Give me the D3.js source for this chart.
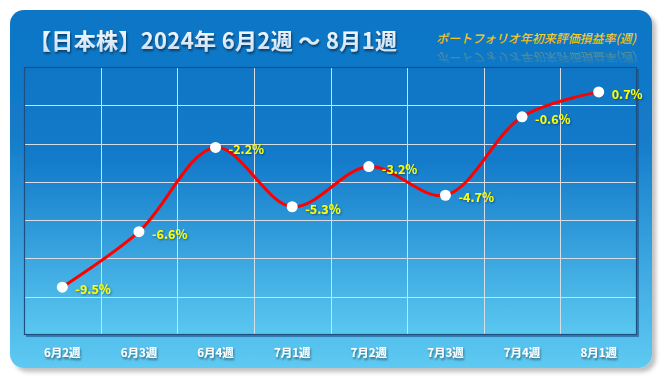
<!DOCTYPE html>
<html>
<head>
<meta charset="utf-8">
<script src="https://cdn.jsdelivr.net/npm/d3@7"></script>
<style>
  body { margin: 0; background: #fff; }
  text { font-family: "Noto Sans CJK JP", "Noto Sans", sans-serif; }
</style>
</head>
<body>
<div id="chart"></div>
<script>
// Data
const weeks = ["6月2週", "6月3週", "6月4週", "7月1週", "7月2週", "7月3週", "7月4週", "8月1週"];
const returns = [-9.5, -6.6, -2.2, -5.3, -3.2, -4.7, -0.6, 0.7];
const yTicks = [-12, -10, -8, -6, -4, -2, 0, 2];

const titleText = "【日本株】2024年 6月2週 ～ 8月1週";
const subtitleText = "ポートフォリオ年初来評価損益率(週)";

const width = 666, height = 384;
const plot = { left: 24, top: 67, right: 637, bottom: 335 };

const svg = d3.select("#chart").append("svg")
    .attr("width", width)
    .attr("height", height);

const defs = svg.append("defs");

// Background gradient
const bg = defs.append("linearGradient")
    .attr("id", "bg").attr("x1", 0).attr("y1", 0).attr("x2", 0).attr("y2", 1);
bg.append("stop").attr("offset", "0%").attr("stop-color", "#0e76c6");
bg.append("stop").attr("offset", "35%").attr("stop-color", "#137bca");
bg.append("stop").attr("offset", "100%").attr("stop-color", "#5ecaf2");

const plotBg = defs.append("linearGradient")
    .attr("id", "plotBg").attr("x1", 0).attr("y1", 0).attr("x2", 0).attr("y2", 1);
plotBg.append("stop").attr("offset", "0%").attr("stop-color", "#0f76c6");
plotBg.append("stop").attr("offset", "35%").attr("stop-color", "#137bca");
plotBg.append("stop").attr("offset", "100%").attr("stop-color", "#5ac8f0");

const sub = defs.append("linearGradient")
    .attr("id", "sub").attr("x1", 0).attr("y1", 0).attr("x2", 0).attr("y2", 1);
sub.append("stop").attr("offset", "0%").attr("stop-color", "#ffe830");
sub.append("stop").attr("offset", "100%").attr("stop-color", "#f0a800");

const titleGrad = defs.append("linearGradient")
    .attr("id", "titleGrad").attr("x1", 0).attr("y1", 0).attr("x2", 0).attr("y2", 1);
titleGrad.append("stop").attr("offset", "0%").attr("stop-color", "#ffffff");
titleGrad.append("stop").attr("offset", "100%").attr("stop-color", "#c8dcf0");

const fade = defs.append("linearGradient")
    .attr("id", "fade").attr("x1", 0).attr("y1", 0).attr("x2", 0).attr("y2", 1);
fade.append("stop").attr("offset", "0%").attr("stop-color", "#f0c030").attr("stop-opacity", 0);
fade.append("stop").attr("offset", "100%").attr("stop-color", "#f0c030").attr("stop-opacity", 0.45);

const shadow = defs.append("filter").attr("id", "panelShadow")
    .attr("x", "-5%").attr("y", "-5%").attr("width", "115%").attr("height", "115%");
shadow.append("feGaussianBlur").attr("in", "SourceAlpha").attr("stdDeviation", 2);
shadow.append("feOffset").attr("dx", 4).attr("dy", 4).attr("result", "b");
shadow.append("feComponentTransfer").append("feFuncA").attr("type", "linear").attr("slope", 0.25);
const m = shadow.append("feMerge");
m.append("feMergeNode");
m.append("feMergeNode").attr("in", "SourceGraphic");

const textShadow = defs.append("filter").attr("id", "textShadow")
    .attr("x", "-10%").attr("y", "-20%").attr("width", "120%").attr("height", "160%");
textShadow.append("feGaussianBlur").attr("in", "SourceAlpha").attr("stdDeviation", 1);
textShadow.append("feOffset").attr("dx", 1).attr("dy", 2);
textShadow.append("feComponentTransfer").append("feFuncA").attr("type", "linear").attr("slope", 0.5);
const m2 = textShadow.append("feMerge");
m2.append("feMergeNode");
m2.append("feMergeNode").attr("in", "SourceGraphic");

const glow = defs.append("filter").attr("id", "glow")
    .attr("x", "-10%").attr("y", "-20%").attr("width", "120%").attr("height", "160%");
glow.append("feGaussianBlur").attr("in", "SourceAlpha").attr("stdDeviation", 0.8);
glow.append("feOffset").attr("dx", 0.5).attr("dy", 1);
glow.append("feComponentTransfer").append("feFuncA").attr("type", "linear").attr("slope", 0.45);
const m3 = glow.append("feMerge");
m3.append("feMergeNode");
m3.append("feMergeNode").attr("in", "SourceGraphic");

// Panel
svg.append("rect")
    .attr("x", 10).attr("y", 10)
    .attr("width", 642).attr("height", 358)
    .attr("rx", 14)
    .attr("fill", "url(#bg)")
    .attr("filter", "url(#panelShadow)");

// Title
svg.append("text")
    .attr("x", 29).attr("y", 49)
    .attr("font-size", 22)
    .attr("font-weight", "bold")
    .attr("fill", "url(#titleGrad)")
    .attr("filter", "url(#textShadow)")
    .attr("textLength", 368)
    .text(titleText);

// Subtitle with faint reflection below it
svg.append("text")
    .attr("x", 436).attr("y", 43)
    .attr("font-size", 12)
    .attr("font-style", "italic")
    .attr("font-weight", 500)
    .attr("fill", "url(#sub)")
    .attr("textLength", 200)
    .text(subtitleText);
svg.append("text")
    .attr("transform", "translate(0,96) scale(1,-1)")
    .attr("x", 436).attr("y", 43)
    .attr("font-size", 12)
    .attr("font-style", "italic")
    .attr("fill", "url(#fade)")
    .attr("textLength", 200)
    .text(subtitleText);

// Scales
const x = d3.scaleBand().domain(weeks).range([plot.left, plot.right]);
const y = d3.scaleLinear().domain([-12, 2]).range([plot.bottom, plot.top]);

// Plot area
svg.append("rect")
    .attr("x", plot.left + 2).attr("y", plot.top + 2)
    .attr("width", plot.right - plot.left).attr("height", plot.bottom - plot.top)
    .attr("fill", "#1c4f86").attr("opacity", 0.6);
svg.append("rect")
    .attr("x", plot.left).attr("y", plot.top)
    .attr("width", plot.right - plot.left).attr("height", plot.bottom - plot.top)
    .attr("fill", "url(#plotBg)");

// Gridlines
const grid = svg.append("g").attr("stroke", "#d6dde6").attr("stroke-width", 1);
grid.selectAll(".h")
    .data(yTicks.slice(1, -1))
    .enter().append("line")
    .attr("x1", plot.left).attr("x2", plot.right)
    .attr("y1", d => Math.round(y(d)) + 0.5).attr("y2", d => Math.round(y(d)) + 0.5);
grid.selectAll(".v")
    .data(weeks.slice(1))
    .enter().append("line")
    .attr("y1", plot.top).attr("y2", plot.bottom)
    .attr("x1", d => Math.round(x(d)) + 0.5).attr("x2", d => Math.round(x(d)) + 0.5);

svg.append("rect")
    .attr("x", plot.left + 0.5).attr("y", plot.top + 0.5)
    .attr("width", plot.right - plot.left - 1).attr("height", plot.bottom - plot.top - 1)
    .attr("fill", "none")
    .attr("stroke", "#1d4f80").attr("stroke-width", 1.2);

// Line
const line = d3.line()
    .x((d, i) => x(weeks[i]) + x.bandwidth() / 2)
    .y(d => y(d))
    .curve(d3.curveCatmullRom.alpha(0.5));

svg.append("path")
    .datum(returns)
    .attr("d", line)
    .attr("fill", "none")
    .attr("stroke", "#ff0000")
    .attr("stroke-width", 3);

// Points
svg.selectAll(".pt")
    .data(returns)
    .enter().append("circle")
    .attr("cx", (d, i) => x(weeks[i]) + x.bandwidth() / 2)
    .attr("cy", d => y(d))
    .attr("r", 5.5)
    .attr("fill", "#ffffff");

// Value labels
svg.selectAll(".lbl")
    .data(returns)
    .enter().append("text")
    .attr("x", (d, i) => x(weeks[i]) + x.bandwidth() / 2 + 13)
    .attr("y", d => y(d) + 7)
    .attr("font-size", 12.5)
    .attr("font-weight", "bold")
    .attr("fill", "#ffff00")
    .attr("filter", "url(#glow)")
    .text(d => d.toFixed(1) + "%");

// X axis labels
svg.selectAll(".xl")
    .data(weeks)
    .enter().append("text")
    .attr("x", d => x(d) + x.bandwidth() / 2)
    .attr("y", 357)
    .attr("text-anchor", "middle")
    .attr("font-size", 11.5)
    .attr("font-weight", "bold")
    .attr("fill", "#ffffff")
    .attr("filter", "url(#textShadow)")
    .text(d => d);
</script>
</body>
</html>
